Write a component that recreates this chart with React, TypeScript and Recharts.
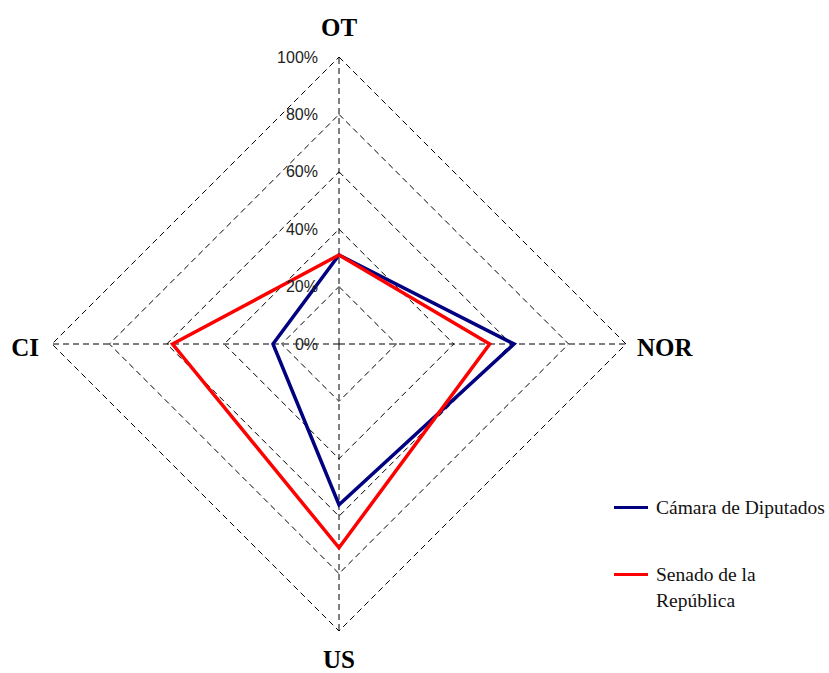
import React from "react"
import { RadarChart, Radar, PolarGrid, PolarAngleAxis, PolarRadiusAxis, Legend } from "recharts"

const categories = ["OT", "NOR", "US", "CI"]
const camara = [0.31, 0.61, 0.56, 0.23]
const senado = [0.31, 0.525, 0.71, 0.58]
const radiusTicks = [0, 0.2, 0.4, 0.6, 0.8, 1]

const data = categories.map((axis, i) => ({ axis, camara: camara[i], senado: senado[i] }))

const pct = (v: number) => `${Math.round(v * 100)}%`

function AngleTick(props: any) {
  const { x, y, payload } = props
  const v = payload.value
  let tx = x
  let ty = y
  let anchor = "middle"
  if (v === "OT") ty = y - 22
  else if (v === "US") ty = y + 20
  else if (v === "NOR") { tx = x + 3; anchor = "start"; ty = y + 3 }
  else if (v === "CI") { tx = x - 5; anchor = "end"; ty = y + 3 }
  return (
    <text x={tx} y={ty} textAnchor={anchor} dominantBaseline="central"
      fontFamily="'Liberation Serif', 'Times New Roman', serif" fontWeight="bold" fontSize={25} fill="#000">
      {v}
    </text>
  )
}

function RadiusTick(props: any) {
  const { x, y, payload } = props
  return (
    <text x={x - 21} y={y} textAnchor="end" dominantBaseline="central"
      fontFamily="'Liberation Sans', Arial, sans-serif" fontSize={16} fill="#222">
      {pct(payload.value)}
    </text>
  )
}

function LegendContent() {
  const row = (color: string, label: React.ReactNode, top: number) => (
    <div style={{ position: "absolute", left: 0, top, display: "flex", alignItems: "flex-start" }}>
      <div style={{ width: 34, height: 3, background: color, marginTop: 11, marginRight: 8 }} />
      <div style={{ fontFamily: "'Liberation Serif', 'Times New Roman', serif", fontSize: 19.5, lineHeight: "26px", color: "#111", whiteSpace: "nowrap" }}>
        {label}
      </div>
    </div>
  )
  return (
    <div style={{ position: "relative", width: 215, height: 130 }}>
      {row("#000080", "Cámara de Diputados", 0)}
      {row("#FF0000", <>Senado de la<br />República</>, 67)}
    </div>
  )
}

export default function App() {
  return (
    <div style={{ position: "absolute", left: 0, top: 0, width: 829, height: 673, background: "#fff" }}>
      <RadarChart width={829} height={673} data={data} cx={339} cy={344} outerRadius={287}
        startAngle={90} endAngle={-270}>
        <PolarGrid gridType="polygon" stroke="#000" strokeDasharray="6 4" strokeWidth={1} />
        <PolarAngleAxis dataKey="axis" tick={<AngleTick />} tickLine={false} axisLine={false} />
        <PolarRadiusAxis angle={90} domain={[0, 1]} ticks={radiusTicks} tickCount={6}
          axisLine={false} tickLine={false} tick={<RadiusTick />} />
        <Radar name="Cámara de Diputados" dataKey="camara" stroke="#000080" strokeWidth={3.5}
          fill="none" fillOpacity={0} dot={false} isAnimationActive={false} />
        <Radar name="Senado de la República" dataKey="senado" stroke="#FF0000" strokeWidth={3.5}
          fill="none" fillOpacity={0} dot={false} isAnimationActive={false} />
        <Legend content={<LegendContent />}
          wrapperStyle={{ position: "absolute", left: 614, top: 495, width: 215, height: 130 }} />
      </RadarChart>
    </div>
  )
}
